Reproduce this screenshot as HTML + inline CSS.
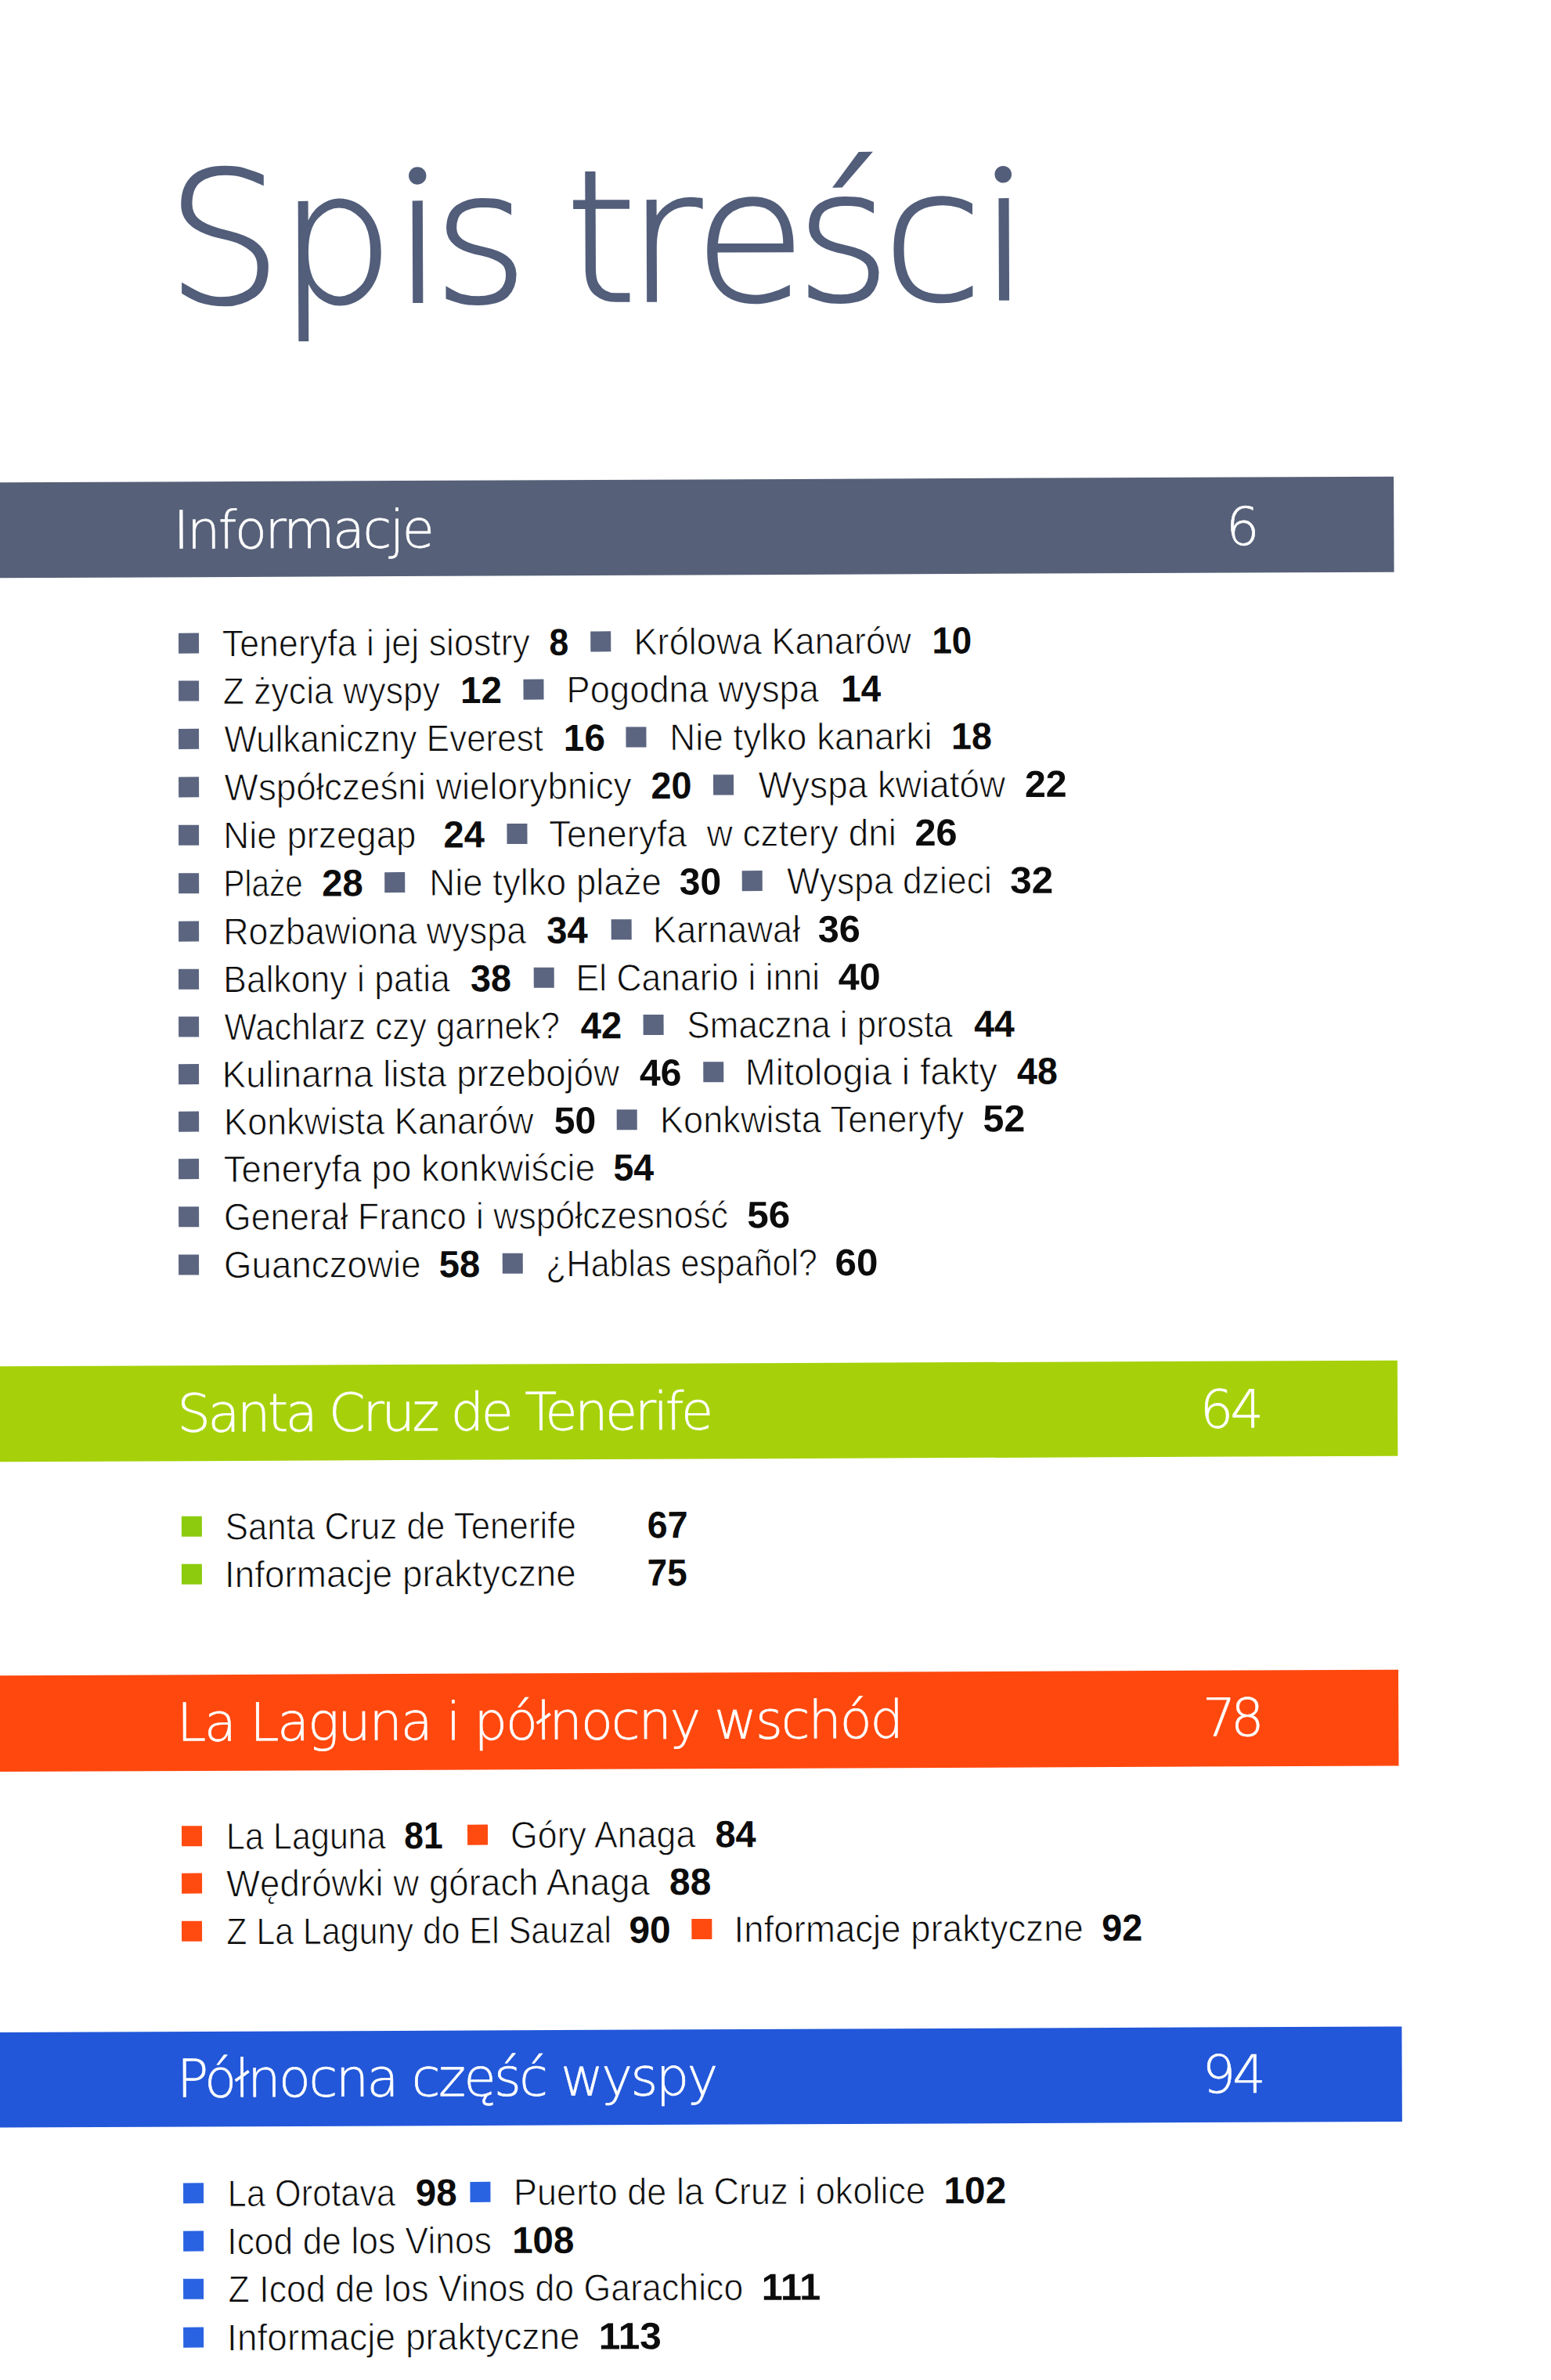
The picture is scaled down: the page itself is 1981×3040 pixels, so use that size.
<!DOCTYPE html>
<html lang="pl"><head><meta charset="utf-8"><title>Spis treści</title>
<style>
html,body{margin:0;padding:0;background:#fff;}
body{width:1981px;height:3040px;overflow:hidden;}
svg{display:block;}
.ti{font-family:"DejaVu Sans", "Liberation Sans", sans-serif;font-weight:200;font-size:234px;fill:#525e7a;stroke:#525e7a;stroke-width:2.6px;}
.hd{font-family:"DejaVu Sans", "Liberation Sans", sans-serif;font-weight:200;font-size:67px;fill:#fff;stroke:#fff;stroke-width:0.6px;}
.bd{font-family:"Liberation Sans", "DejaVu Sans", sans-serif;font-weight:400;font-size:48px;fill:#0c0c0c;stroke:#fff;stroke-width:0.9px;white-space:pre;}
.nb{font-family:"Liberation Sans", "DejaVu Sans", sans-serif;font-weight:700;font-size:48px;fill:#0c0c0c;}
</style></head>
<body>
<svg width="1981" height="3040" viewBox="0 0 1981 3040">
<g transform="rotate(-0.2406)">
<text class="ti" x="210.6 354.0 500.7 551.6 611.6 720.7 799.2 884.6 1014.6 1125.4 1249.3" y="387.8">Spis treści</text>
<rect x="518.3" y="194.7" width="28" height="44.0" fill="#fff"/>
<circle cx="532.3" cy="226.7" r="11.2" fill="#525e7a"/>
<rect x="1266.3" y="196.1" width="28" height="44.0" fill="#fff"/>
<circle cx="1280.3" cy="228.1" r="10.8" fill="#525e7a"/>
<rect x="-80" y="616.2" width="1857.5" height="122.0" fill="#566078"/>
<text class="hd" x="218.9" y="701.5" textLength="333.2" lengthAdjust="spacing">Informacje</text>
<text class="hd" x="1563.2" y="702.6" textLength="43.6" lengthAdjust="spacing">6</text>
<rect x="224.6" y="809.6" width="26" height="26" fill="#5b6580"/>
<text class="bd" x="280.3" y="839.6" textLength="393.2" lengthAdjust="spacingAndGlyphs">Teneryfa i jej siostry</text>
<text class="nb" x="698.1" y="839.6" textLength="24.8" lengthAdjust="spacingAndGlyphs">8</text>
<rect x="750.8" y="809.6" width="26" height="26" fill="#5b6580"/>
<text class="bd" x="805.9" y="839.6" textLength="354.5" lengthAdjust="spacingAndGlyphs">Królowa Kanarów</text>
<text class="nb" x="1186.9" y="839.6" textLength="50.9" lengthAdjust="spacingAndGlyphs">10</text>
<rect x="224.4" y="870.5" width="26" height="26" fill="#5b6580"/>
<text class="bd" x="280.9" y="900.5" textLength="277.4" lengthAdjust="spacingAndGlyphs">Z życia wyspy</text>
<text class="nb" x="584.3" y="900.5" textLength="53.1" lengthAdjust="spacingAndGlyphs">12</text>
<rect x="664.8" y="870.5" width="26" height="26" fill="#5b6580"/>
<text class="bd" x="719.8" y="900.5" textLength="322.4" lengthAdjust="spacingAndGlyphs">Pogodna wyspa</text>
<text class="nb" x="1070.6" y="900.5" textLength="50.9" lengthAdjust="spacingAndGlyphs">14</text>
<rect x="224.1" y="931.9" width="26" height="26" fill="#5b6580"/>
<text class="bd" x="282.5" y="961.9" textLength="407.4" lengthAdjust="spacingAndGlyphs">Wulkaniczny Everest</text>
<text class="nb" x="715.8" y="961.9" textLength="53.1" lengthAdjust="spacingAndGlyphs">16</text>
<rect x="795.5" y="931.9" width="26" height="26" fill="#5b6580"/>
<text class="bd" x="851.2" y="961.9" textLength="335.4" lengthAdjust="spacingAndGlyphs">Nie tylko kanarki</text>
<text class="nb" x="1210.9" y="961.9" textLength="52.0" lengthAdjust="spacingAndGlyphs">18</text>
<rect x="223.9" y="993.4" width="26" height="26" fill="#5b6580"/>
<text class="bd" x="282.3" y="1023.4" textLength="520.0" lengthAdjust="spacingAndGlyphs">Współcześni wielorybnicy</text>
<text class="nb" x="827.2" y="1023.4" textLength="52.1" lengthAdjust="spacingAndGlyphs">20</text>
<rect x="906.8" y="993.4" width="26" height="26" fill="#5b6580"/>
<text class="bd" x="964.1" y="1023.4" textLength="315.7" lengthAdjust="spacingAndGlyphs">Wyspa kwiatów</text>
<text class="nb" x="1304.7" y="1023.4" textLength="53.8" lengthAdjust="spacingAndGlyphs">22</text>
<rect x="223.6" y="1054.8" width="26" height="26" fill="#5b6580"/>
<text class="bd" x="280.6" y="1084.8" textLength="246.4" lengthAdjust="spacingAndGlyphs">Nie przegap</text>
<text class="nb" x="562.0" y="1084.8" textLength="52.4" lengthAdjust="spacingAndGlyphs">24</text>
<rect x="643.0" y="1054.8" width="26" height="26" fill="#5b6580"/>
<text class="bd" x="696.6" y="1084.8" textLength="443.9" lengthAdjust="spacingAndGlyphs">Teneryfa  w cztery dni</text>
<text class="nb" x="1163.9" y="1084.8" textLength="54.2" lengthAdjust="spacingAndGlyphs">26</text>
<rect x="223.4" y="1116.2" width="26" height="26" fill="#5b6580"/>
<text class="bd" x="280.6" y="1146.2" textLength="101.4" lengthAdjust="spacingAndGlyphs">Plaże</text>
<text class="nb" x="406.4" y="1146.2" textLength="52.6" lengthAdjust="spacingAndGlyphs">28</text>
<rect x="486.5" y="1116.2" width="26" height="26" fill="#5b6580"/>
<text class="bd" x="543.4" y="1146.2" textLength="296.8" lengthAdjust="spacingAndGlyphs">Nie tylko plaże</text>
<text class="nb" x="863.0" y="1146.2" textLength="53.5" lengthAdjust="spacingAndGlyphs">30</text>
<rect x="943.0" y="1116.2" width="26" height="26" fill="#5b6580"/>
<text class="bd" x="1000.3" y="1146.2" textLength="261.7" lengthAdjust="spacingAndGlyphs">Wyspa dzieci</text>
<text class="nb" x="1285.5" y="1146.2" textLength="55.0" lengthAdjust="spacingAndGlyphs">32</text>
<rect x="223.1" y="1177.6" width="26" height="26" fill="#5b6580"/>
<text class="bd" x="280.1" y="1207.6" textLength="387.0" lengthAdjust="spacingAndGlyphs">Rozbawiona wyspa</text>
<text class="nb" x="693.2" y="1207.6" textLength="52.5" lengthAdjust="spacingAndGlyphs">34</text>
<rect x="775.7" y="1177.6" width="26" height="26" fill="#5b6580"/>
<text class="bd" x="829.0" y="1207.6" textLength="188.1" lengthAdjust="spacingAndGlyphs">Karnawał</text>
<text class="nb" x="1039.6" y="1207.6" textLength="54.2" lengthAdjust="spacingAndGlyphs">36</text>
<rect x="222.8" y="1238.7" width="26" height="26" fill="#5b6580"/>
<text class="bd" x="279.9" y="1268.7" textLength="289.6" lengthAdjust="spacingAndGlyphs">Balkony i patia</text>
<text class="nb" x="595.6" y="1268.7" textLength="52.1" lengthAdjust="spacingAndGlyphs">38</text>
<rect x="676.5" y="1238.7" width="26" height="26" fill="#5b6580"/>
<text class="bd" x="730.3" y="1268.7" textLength="311.4" lengthAdjust="spacingAndGlyphs">El Canario i inni</text>
<text class="nb" x="1065.5" y="1268.7" textLength="53.9" lengthAdjust="spacingAndGlyphs">40</text>
<rect x="222.6" y="1299.5" width="26" height="26" fill="#5b6580"/>
<text class="bd" x="281.0" y="1329.5" textLength="428.4" lengthAdjust="spacingAndGlyphs">Wachlarz czy garnek?</text>
<text class="nb" x="736.1" y="1329.5" textLength="52.5" lengthAdjust="spacingAndGlyphs">42</text>
<rect x="816.1" y="1299.5" width="26" height="26" fill="#5b6580"/>
<text class="bd" x="872.0" y="1329.5" textLength="339.2" lengthAdjust="spacingAndGlyphs">Smaczna i prosta</text>
<text class="nb" x="1238.6" y="1329.5" textLength="51.6" lengthAdjust="spacingAndGlyphs">44</text>
<rect x="222.3" y="1360.1" width="26" height="26" fill="#5b6580"/>
<text class="bd" x="277.9" y="1390.1" textLength="507.5" lengthAdjust="spacingAndGlyphs">Kulinarna lista przebojów</text>
<text class="nb" x="811.1" y="1390.1" textLength="53.5" lengthAdjust="spacingAndGlyphs">46</text>
<rect x="892.5" y="1360.1" width="26" height="26" fill="#5b6580"/>
<text class="bd" x="946.0" y="1390.1" textLength="322.1" lengthAdjust="spacingAndGlyphs">Mitologia i fakty</text>
<text class="nb" x="1293.2" y="1390.1" textLength="51.8" lengthAdjust="spacingAndGlyphs">48</text>
<rect x="222.1" y="1420.6" width="26" height="26" fill="#5b6580"/>
<text class="bd" x="280.0" y="1450.6" textLength="395.5" lengthAdjust="spacingAndGlyphs">Konkwista Kanarów</text>
<text class="nb" x="701.6" y="1450.6" textLength="53.6" lengthAdjust="spacingAndGlyphs">50</text>
<rect x="781.7" y="1420.6" width="26" height="26" fill="#5b6580"/>
<text class="bd" x="836.8" y="1450.6" textLength="388.5" lengthAdjust="spacingAndGlyphs">Konkwista Teneryfy</text>
<text class="nb" x="1249.5" y="1450.6" textLength="53.7" lengthAdjust="spacingAndGlyphs">52</text>
<rect x="221.8" y="1481.1" width="26" height="26" fill="#5b6580"/>
<text class="bd" x="279.3" y="1511.1" textLength="474.6" lengthAdjust="spacingAndGlyphs">Teneryfa po konkwiście</text>
<text class="nb" x="777.1" y="1511.1" textLength="51.8" lengthAdjust="spacingAndGlyphs">54</text>
<rect x="221.6" y="1542.2" width="26" height="26" fill="#5b6580"/>
<text class="bd" x="279.5" y="1572.2" textLength="643.9" lengthAdjust="spacingAndGlyphs">Generał Franco i współczesność</text>
<text class="nb" x="947.7" y="1572.2" textLength="55.0" lengthAdjust="spacingAndGlyphs">56</text>
<rect x="221.3" y="1603.5" width="26" height="26" fill="#5b6580"/>
<text class="bd" x="279.2" y="1633.5" textLength="251.5" lengthAdjust="spacingAndGlyphs">Guanczowie</text>
<text class="nb" x="554.0" y="1633.5" textLength="52.5" lengthAdjust="spacingAndGlyphs">58</text>
<rect x="635.0" y="1603.5" width="26" height="26" fill="#5b6580"/>
<text class="bd" x="690.5" y="1633.5" textLength="346.6" lengthAdjust="spacingAndGlyphs">¿Hablas español?</text>
<text class="nb" x="1059.7" y="1633.5" textLength="55.0" lengthAdjust="spacingAndGlyphs">60</text>
<rect x="-80" y="1745.2" width="1857.5" height="122.0" fill="#a6d10a"/>
<text class="hd" x="218.8" y="1829.5" textLength="684.8" lengthAdjust="spacing">Santa Cruz de Tenerife</text>
<text class="hd" x="1525.1" y="1829.9" textLength="81.5" lengthAdjust="spacing">64</text>
<rect x="223.7" y="1937.8" width="26" height="26" fill="#8ccb0e"/>
<text class="bd" x="279.4" y="1967.8" textLength="448.3" lengthAdjust="spacingAndGlyphs">Santa Cruz de Tenerife</text>
<text class="nb" x="818.5" y="1967.8" textLength="51.9" lengthAdjust="spacingAndGlyphs">67</text>
<rect x="223.5" y="1998.8" width="26" height="26" fill="#8ccb0e"/>
<text class="bd" x="278.4" y="2028.8" textLength="449.0" lengthAdjust="spacingAndGlyphs">Informacje praktyczne</text>
<text class="nb" x="818.2" y="2028.8" textLength="51.0" lengthAdjust="spacingAndGlyphs">75</text>
<rect x="-80" y="2140.2" width="1857.0" height="122.8" fill="#ff480e"/>
<text class="hd" x="216.6" y="2224.5" textLength="928.2" lengthAdjust="spacing">La Laguna i północny wschód</text>
<text class="hd" x="1526.8" y="2223.8" textLength="78.6" lengthAdjust="spacing">78</text>
<rect x="222.2" y="2333.2" width="26" height="26" fill="#ff4a10"/>
<text class="bd" x="279.1" y="2363.2" textLength="203.8" lengthAdjust="spacingAndGlyphs">La Laguna</text>
<text class="nb" x="506.4" y="2363.2" textLength="49.5" lengthAdjust="spacingAndGlyphs">81</text>
<rect x="587.2" y="2333.2" width="26" height="26" fill="#ff4a10"/>
<text class="bd" x="642.1" y="2363.2" textLength="236.3" lengthAdjust="spacingAndGlyphs">Góry Anaga</text>
<text class="nb" x="903.5" y="2363.2" textLength="52.3" lengthAdjust="spacingAndGlyphs">84</text>
<rect x="222.0" y="2393.6" width="26" height="26" fill="#ff4a10"/>
<text class="bd" x="278.8" y="2423.6" textLength="541.0" lengthAdjust="spacingAndGlyphs">Wędrówki w górach Anaga</text>
<text class="nb" x="844.9" y="2423.6" textLength="53.3" lengthAdjust="spacingAndGlyphs">88</text>
<rect x="221.7" y="2454.8" width="26" height="26" fill="#ff4a10"/>
<text class="bd" x="278.8" y="2484.8" textLength="491.8" lengthAdjust="spacingAndGlyphs">Z La Laguny do El Sauzal</text>
<text class="nb" x="793.0" y="2484.8" textLength="53.3" lengthAdjust="spacingAndGlyphs">90</text>
<rect x="873.0" y="2454.8" width="26" height="26" fill="#ff4a10"/>
<text class="bd" x="927.2" y="2484.8" textLength="446.3" lengthAdjust="spacingAndGlyphs">Informacje praktyczne</text>
<text class="nb" x="1396.9" y="2484.8" textLength="52.1" lengthAdjust="spacingAndGlyphs">92</text>
<rect x="-80" y="2596.0" width="1859.5" height="121.5" fill="#2257d9"/>
<text class="hd" x="214.7" y="2679.5" textLength="691.5" lengthAdjust="spacing">Północna część wyspy</text>
<text class="hd" x="1524.4" y="2679.5" textLength="81.3" lengthAdjust="spacing">94</text>
<rect x="222.3" y="2789.4" width="26" height="26" fill="#2a63e2"/>
<text class="bd" x="279.0" y="2819.4" textLength="214.3" lengthAdjust="spacingAndGlyphs">La Orotava</text>
<text class="nb" x="519.0" y="2819.4" textLength="53.0" lengthAdjust="spacingAndGlyphs">98</text>
<rect x="588.7" y="2789.4" width="26" height="26" fill="#2a63e2"/>
<text class="bd" x="644.1" y="2819.4" textLength="526.2" lengthAdjust="spacingAndGlyphs">Puerto de la Cruz i okolice</text>
<text class="nb" x="1193.7" y="2819.4" textLength="79.8" lengthAdjust="spacingAndGlyphs">102</text>
<rect x="222.1" y="2850.6" width="26" height="26" fill="#2a63e2"/>
<text class="bd" x="278.2" y="2880.6" textLength="337.7" lengthAdjust="spacingAndGlyphs">Icod de los Vinos</text>
<text class="nb" x="642.1" y="2880.6" textLength="79.3" lengthAdjust="spacingAndGlyphs">108</text>
<rect x="221.8" y="2911.8" width="26" height="26" fill="#2a63e2"/>
<text class="bd" x="279.2" y="2941.8" textLength="657.8" lengthAdjust="spacingAndGlyphs">Z Icod de los Vinos do Garachico</text>
<text class="nb" x="960.4" y="2941.8" textLength="75.6" lengthAdjust="spacingAndGlyphs">111</text>
<rect x="221.6" y="2973.6" width="26" height="26" fill="#2a63e2"/>
<text class="bd" x="277.5" y="3003.6" textLength="450.6" lengthAdjust="spacingAndGlyphs">Informacje praktyczne</text>
<text class="nb" x="752.2" y="3003.6" textLength="80.1" lengthAdjust="spacingAndGlyphs">113</text>
</g>
</svg>
</body></html>
